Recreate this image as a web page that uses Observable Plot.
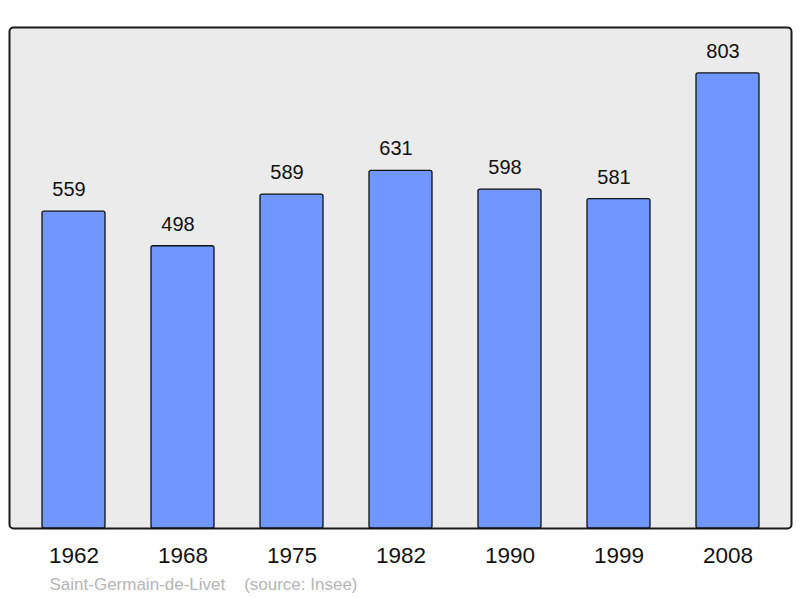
<!DOCTYPE html>
<html><head><meta charset="utf-8">
<script src="https://cdn.jsdelivr.net/npm/d3@7"></script>
<script src="https://cdn.jsdelivr.net/npm/@observablehq/plot@0.6"></script>
<style>body{margin:0;background:#fff;}svg{display:block;}</style>
</head><body><div id="chart"></div>
<script>
const years = ["1962","1968","1975","1982","1990","1999","2008"];
const population = [559, 498, 589, 631, 598, 581, 803];
const caption = "Saint-Germain-de-Livet    (source: Insee)";
const data = years.map((y, i) => ({year: y, pop: population[i]}));

const plot = Plot.plot({
  width: 800, height: 598,
  marginLeft: 9, marginRight: 9, marginTop: 27, marginBottom: 70,
  style: {fontFamily: "Liberation Sans, Arial, sans-serif", background: "#fff"},
  x: {domain: years, range: [17.5, 783.4], paddingInner: 0.424, paddingOuter: 0.212, label: null},
  y: {domain: [0, 884], axis: null},
  marks: [
    Plot.frame({fill: "#ebebeb", stroke: "#1a1a1a", strokeWidth: 2, rx: 4}),
    Plot.barY(data, {x: "year", y: "pop", fill: "#7097ff", stroke: "#111", strokeWidth: 1.3, rx: 2}),
    Plot.text(data, {x: "year", y: "pop", text: d => String(d.pop), dy: -22, dx: -5, fontSize: 20, fill: "#111", lineAnchor: "middle"}),
    Plot.axisX({tickSize: 0, tickPadding: 19, fontSize: 22.5, fill: "#111", label: null}),
    Plot.text([caption], {frameAnchor: "bottom-left", text: d => d, dx: 40, dy: 56, fontSize: 17, fill: "#b5b5b5", textAnchor: "start", lineAnchor: "middle", style: {whiteSpace: "pre"}})
  ]
});
document.getElementById("chart").appendChild(plot);
</script>
</body></html>
